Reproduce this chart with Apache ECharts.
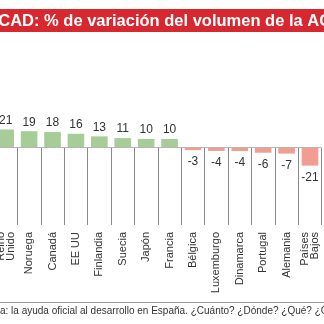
<!DOCTYPE html>
<html>
<head>
<meta charset="utf-8">
<script src="https://cdn.jsdelivr.net/npm/echarts@6/dist/echarts.min.js"></script>
<style>html,body{margin:0;padding:0;background:#fff}#c{width:324px;height:324px}</style>
</head>
<body>
<div id="c"></div>
<script>
const categories = ['Reino\nUnido','Noruega','Canadá','EE UU','Finlandia','Suecia','Japón','Francia','Bélgica','Luxemburgo','Dinamarca','Portugal','Alemania','Países\nBajos'];
const values = [21, 19, 18, 16, 13, 11, 10, 10, -3, -4, -4, -6, -7, -21];
const titleText = 'OCDE/CAD: % de variación del volumen de la AOD';
const sourceText = 'a: la ayuda oficial al desarrollo en España. ¿Cuánto? ¿Dónde? ¿Qué? ¿Cómo?';

const GREEN = '#a6cd97';
const RED = '#f29d91';
const FONT = '"Liberation Sans", Arial, sans-serif';

const chart = echarts.init(document.getElementById('c'), null, {renderer: 'canvas'});
chart.setOption({
  animation: false,
  backgroundColor: '#fff',
  grid: {left: -6, right: 2.3, top: 40, bottom: 99, containLabel: false, outerBoundsMode: 'none'},
  xAxis: {
    type: 'category',
    data: categories,
    position: 'bottom',
    axisLine: {show: false, onZero: false},
    axisTick: {show: true, inside: true, length: 77, interval: 0, alignWithLabel: false,
      lineStyle: {color: '#8a8a8a', width: 1}},
    axisLabel: {rotate: 90, interval: 0, margin: 7, fontSize: 11, lineHeight: 10,
      color: '#333', fontFamily: FONT},
    splitLine: {show: false}
  },
  yAxis: {
    type: 'value', min: -90, max: 125,
    axisLine: {show: false}, axisTick: {show: false}, axisLabel: {show: false}, splitLine: {show: false}
  },
  series: [{
    type: 'bar',
    barWidth: '71%',
    data: values.map(v => ({
      value: v,
      itemStyle: {color: v >= 0 ? GREEN : RED},
      label: {position: v >= 0 ? 'top' : 'bottom', distance: v >= 0 ? 3 : 6}
    })),
    label: {show: true, fontSize: 12, color: '#333', fontFamily: FONT},
    markLine: {
      silent: true, symbol: 'none', label: {show: false},
      lineStyle: {color: '#b5b5b5', width: 1, type: 'solid'},
      data: [{yAxis: 0}]
    }
  }],
  graphic: [
    {type: 'rect', left: 0, top: 9, shape: {width: 324, height: 23}, style: {fill: '#d7282f'}, z: 10},
    {type: 'text', x: -54, y: 21, z: 11,
      style: {text: titleText, fill: '#fff', font: 'bold 16.5px ' + FONT, textVerticalAlign: 'middle'}},
    {type: 'line', shape: {x1: 0, y1: 302.5, x2: 324, y2: 302.5}, style: {stroke: '#999', lineWidth: 1}, z: 10},
    {type: 'text', x: 0, y: 306, z: 11,
      style: {text: sourceText, fill: '#333', font: '10px ' + FONT, textVerticalAlign: 'top'}}
  ]
});
</script>
</body>
</html>
